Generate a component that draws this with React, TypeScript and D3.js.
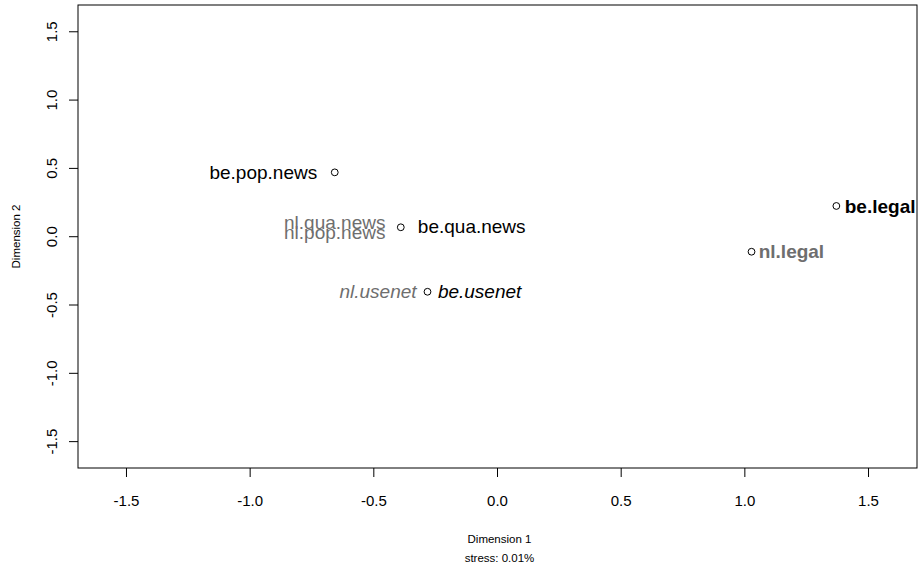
import React from "react";
import * as d3 from "d3";

const names = ["be.pop.news", "nl.qua.news", "nl.pop.news", "be.qua.news", "nl.usenet", "be.usenet", "be.legal", "nl.legal"];
const dim1 = [-0.658, -0.391, -0.391, -0.391, -0.283, -0.283, 1.370, 1.027];
const dim2 = [0.471, 0.069, 0.069, 0.069, -0.403, -0.403, 0.225, -0.110];
// label anchor positions (data units)
const labelX = [-0.729, -0.453, -0.453, -0.322, -0.327, -0.241, 1.404, 1.056];
const labelY = [0.419, 0.056, -0.019, 0.027, -0.449, -0.449, 0.173, -0.158];
const labelSide = ["end", "end", "end", "start", "end", "start", "start", "start"];
const labelGroup = ["news", "news", "news", "news", "usenet", "usenet", "legal", "legal"];

const ticks = [-1.5, -1.0, -0.5, 0.0, 0.5, 1.0, 1.5];
const tickLabels = ["-1.5", "-1.0", "-0.5", "0.0", "0.5", "1.0", "1.5"];
const xDomain = [-1.696, 1.696];
const yDomain = [-1.693, 1.696];

export default function App() {
  const W = 920, H = 571;
  const left = 78, right = 917, top = 5, bottom = 468;
  const x = d3.scaleLinear().domain(xDomain).range([left, right]);
  const y = d3.scaleLinear().domain(yDomain).range([bottom, top]);
  const font = "'Liberation Sans', Arial, Helvetica, sans-serif";
  const circle = d3.symbol().type(d3.symbolCircle).size(Math.PI * 3.4 * 3.4);

  // draw one circle per distinct position
  const seen = new Set<string>();
  const uniq: number[] = [];
  names.forEach((_, i) => {
    const k = dim1[i] + "," + dim2[i];
    if (!seen.has(k)) { seen.add(k); uniq.push(i); }
  });

  return (
    <svg width={W} height={H} style={{ position: "absolute", left: 0, top: 0, background: "#fff" }} fontFamily={font}>
      <style>{`body{margin:0}`}</style>
      <rect x={0} y={0} width={W} height={H} fill="#fff" />
      <rect x={left} y={top} width={right - left} height={bottom - top} fill="none" stroke="#000" strokeWidth={1} />
      {ticks.map((t, i) => (
        <g key={"x" + i}>
          <line x1={x(t)} x2={x(t)} y1={bottom} y2={bottom + 9} stroke="#000" />
          <text x={x(t)} y={506} fontSize={15} textAnchor="middle">{tickLabels[i]}</text>
        </g>
      ))}
      {ticks.map((t, i) => (
        <g key={"y" + i}>
          <line x1={left - 9} x2={left} y1={y(t)} y2={y(t)} stroke="#000" />
          <text transform={`translate(57,${y(t)}) rotate(-90)`} fontSize={15} textAnchor="middle">{tickLabels[i]}</text>
        </g>
      ))}
      <text x={499.5} y={543} fontSize={11.5} textAnchor="middle">Dimension 1</text>
      <text x={499.5} y={562} fontSize={11.5} textAnchor="middle">stress: 0.01%</text>
      <text transform={`translate(20,236.5) rotate(-90)`} fontSize={11.5} textAnchor="middle">Dimension 2</text>
      {uniq.map((i) => (
        <path key={"p" + i} d={circle() as string} transform={`translate(${x(dim1[i])},${y(dim2[i])})`} fill="none" stroke="#000" strokeWidth={1} />
      ))}
      {names.map((n, i) => (
        <text
          key={"l" + i}
          x={x(labelX[i])}
          y={y(labelY[i])}
          fontSize={19}
          textAnchor={labelSide[i]}
          fill={n.startsWith("nl") ? "#6e6e6e" : "#000"}
          fontStyle={labelGroup[i] === "usenet" ? "italic" : "normal"}
          fontWeight={labelGroup[i] === "legal" ? "bold" : "normal"}
        >
          {n}
        </text>
      ))}
    </svg>
  );
}
